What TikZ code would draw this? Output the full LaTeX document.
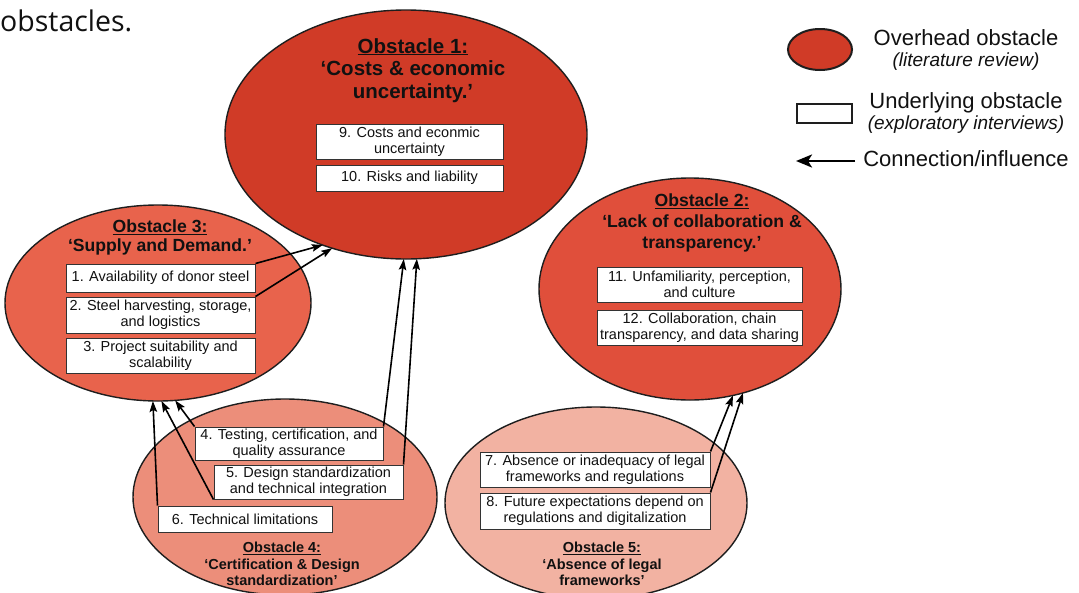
\documentclass[tikz,border=0pt]{standalone}
\usepackage{fontspec}
\setmainfont{Liberation Sans}
\newfontfamily\leadfont{Open Sans}
\usetikzlibrary{shapes.geometric,arrows.meta}

\definecolor{obsA}{HTML}{D03B27}
\definecolor{obsB}{HTML}{E04F3B}
\definecolor{obsC}{HTML}{E8634C}
\definecolor{obsD}{HTML}{EC8E7A}
\definecolor{obsE}{HTML}{F2B2A2}
\definecolor{rim}{HTML}{1E1E1E}
\definecolor{boxrim}{HTML}{333333}
\definecolor{ink}{HTML}{111111}

\tikzset{
  obst/.style={ellipse, draw=rim, line width=1.4pt, inner sep=0pt, outer sep=0pt},
  under/.style={rectangle, draw=boxrim, line width=1pt, fill=white, inner sep=0pt,
    align=center, text=ink, font=\fontsize{14.5}{16}\selectfont},
  ttlbig/.style={anchor=north, align=center, inner sep=0pt, text=ink,
    font=\bfseries\fontsize{20.5}{22.5}\selectfont},
  ttlmid/.style={anchor=north, align=center, inner sep=0pt, text=ink,
    font=\bfseries\fontsize{17.6}{21}\selectfont},
  ttlsmall/.style={anchor=north, align=center, inner sep=0pt, text=ink,
    font=\bfseries\fontsize{14.5}{16.5}\selectfont},
  legtxt/.style={anchor=north, align=center, inner sep=0pt, text=ink,
    font=\fontsize{22}{21}\selectfont},
  conn/.style={-{Stealth[length=11pt,width=7.5pt,inset=2pt]}, line width=1.6pt, draw=black},
}

\begin{document}
\begin{tikzpicture}[x=1pt, y=-1pt]
  % canvas
  \fill[white] (0,0) rectangle (1079,592);
  \useasboundingbox (0,0) rectangle (1079,592);

  % tail of the caption above the figure
  \node[anchor=base west, inner sep=0pt, font=\leadfont\fontsize{28.5}{30}\selectfont, text=ink]
    (lead) at (0,31) {obstacles.};

  % overhead obstacles
  \node[obst, fill=obsA, minimum width=362pt, minimum height=249pt] (e1) at (406,134.5) {};
  \node[obst, fill=obsC, minimum width=306pt, minimum height=196pt] (e3) at (158,303) {};
  \node[obst, fill=obsB, minimum width=302pt, minimum height=222pt] (e2) at (690,289) {};
  \node[obst, fill=obsD, minimum width=304pt, minimum height=196pt] (e4) at (285,497) {};
  \node[obst, fill=obsE, minimum width=302pt, minimum height=192pt] (e5) at (596,503) {};

  % titles
  \node[ttlbig] (t1) at (413,38) {\underline{Obstacle 1:}\\‘Costs \& economic\\uncertainty.’};
  \node[ttlmid, font=\bfseries\fontsize{17.6}{18.5}\selectfont] (t3) at (160,220)
    {\underline{Obstacle 3:}\\‘Supply and Demand.’};
  \node[ttlmid] (t2) at (702,194) {\underline{Obstacle 2:}\\‘Lack of collaboration \&\\transparency.’};
  \node[ttlsmall] (t4) at (282,542) {\underline{Obstacle 4:}\\‘Certification \& Design\\standardization’};
  \node[ttlsmall] (t5) at (602,542) {\underline{Obstacle 5:}\\‘Absence of legal\\frameworks’};

  % underlying obstacles
  \node[under, minimum width=187pt, minimum height=35pt] (b9) at (409.5,141.5) {9. Costs and econmic\\uncertainty};
  \node[under, minimum width=187pt, minimum height=26pt] (b10) at (409.5,178) {10. Risks and liability};

  \node[under, minimum width=189pt, minimum height=28pt] (b1) at (160.5,278) {1. Availability of donor steel};
  \node[under, minimum width=189pt, minimum height=36pt] (b2) at (160.5,315) {2. Steel harvesting, storage,\\and logistics};
  \node[under, minimum width=189pt, minimum height=35pt] (b3) at (160.5,355.5) {3. Project suitability and\\scalability};

  \node[under, minimum width=205pt, minimum height=35pt] (b11) at (699.5,284.5) {11. Unfamiliarity, perception,\\and culture};
  \node[under, minimum width=205pt, minimum height=35pt] (b12) at (699.5,327.5) {12. Collaboration, chain\\transparency, and data sharing};

  \node[under, minimum width=188pt, minimum height=33pt] (b4) at (289,443.5) {4. Testing, certification, and\\quality assurance};
  \node[under, minimum width=189pt, minimum height=34pt] (b5) at (308.5,482) {5. Design standardization\\and technical integration};
  \node[under, minimum width=174pt, minimum height=26pt] (b6) at (245,519) {6. Technical limitations};

  \node[under, minimum width=230pt, minimum height=35pt] (b7) at (595,469.5) {7. Absence or inadequacy of legal\\frameworks and regulations};
  \node[under, minimum width=230pt, minimum height=36pt] (b8) at (595,511) {8. Future expectations depend on\\regulations and digitalization};

  % influences
  \draw[conn] (b1.north east) -- (e1.233.4);
  \draw[conn] (b2.north east) -- (e1.237.5);
  \draw[conn] (b4.north east) -- (e1.269.5);
  \draw[conn] (b5.north east) -- (e1.275);
  \draw[conn] (b4.north west) -- (e3.280.7);
  \draw[conn] (b5.south west) -- (e3.272.8);
  \draw[conn] (b6.north west) -- (e3.267.2);
  \draw[conn] (b7.north east) -- (e2.292.1);
  \draw[conn] (b8.north east) -- (e2.297);

  % legend
  \node[ellipse, draw=rim, line width=2pt, fill=obsA, inner sep=0pt,
        minimum width=64pt, minimum height=41pt] (lgE) at (820,49.5) {};
  \node[rectangle, draw=rim, line width=2pt, fill=white, inner sep=0pt,
        minimum width=55pt, minimum height=19pt] (lgR) at (824.5,113.5) {};
  \coordinate (lgA1) at (855,161);
  \coordinate (lgA0) at (796,161);
  \draw[-{Stealth[length=16pt,width=13pt,inset=4pt]}, line width=2.6pt] (lgA1) -- (lgA0);

  \node[legtxt] (lgT1) at (966,29)
    {Overhead obstacle\\{\itshape\fontsize{19}{21}\selectfont (literature review)}};
  \node[legtxt] (lgT2) at (966,92.5)
    {Underlying obstacle\\{\itshape\fontsize{19}{21}\selectfont (exploratory interviews)}};
  \node[legtxt] (lgT3) at (966,150) {Connection/influence};
\end{tikzpicture}
\end{document}
